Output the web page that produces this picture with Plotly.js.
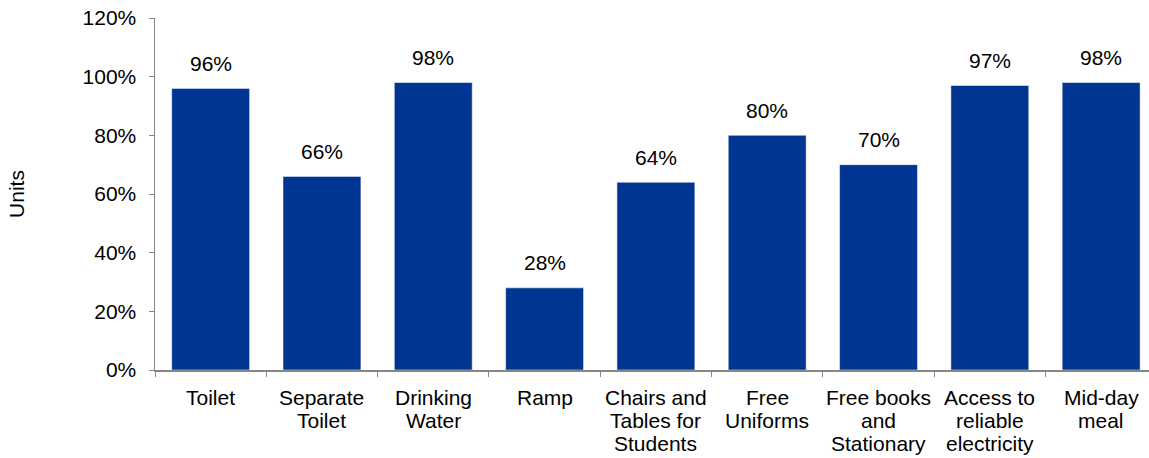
<!DOCTYPE html>
<html><head><meta charset="utf-8">
<script src="https://cdn.plot.ly/plotly-3.0.1.min.js"></script>
<style>html,body{margin:0;padding:0;background:#fff;overflow:hidden}</style>
</head><body>
<div id="chart" style="width:1149px;height:458px"></div>
<script>
const categories = ["Toilet", "Separate Toilet", "Drinking Water", "Ramp", "Chairs and Tables for Students", "Free Uniforms", "Free books and Stationary", "Access to reliable electricity", "Mid-day meal"];
const tickLines = [["Toilet"], ["Separate", "Toilet"], ["Drinking", "Water"], ["Ramp"], ["Chairs and", "Tables for", "Students"], ["Free", "Uniforms"], ["Free books", "and", "Stationary"], ["Access to", "reliable", "electricity"], ["Mid-day", "meal"]];
const values = [0.96, 0.66, 0.98, 0.28, 0.64, 0.80, 0.70, 0.97, 0.98];
const labels = ["96%", "66%", "98%", "28%", "64%", "80%", "70%", "97%", "98%"];

const font = "Liberation Sans, Arial, sans-serif";
const FS = 21;
const trace = {
  type: "bar", x: categories, y: values,
  marker: {color: "#003591", line: {color: "#ffffff", width: 0.5}},
  width: 0.7, hoverinfo: "skip"
};
const annotations = categories.map((c, i) => ({
  x: c, y: values[i], text: labels[i], showarrow: false,
  xanchor: "center", yanchor: "middle", yshift: 25,
  font: {family: font, size: FS, color: "#000"}
}));
tickLines.forEach((lines, i) => {
  lines.forEach((ln, k) => {
    annotations.push({
      x: categories[i], xref: "x", y: 0, yref: "paper", text: ln, showarrow: false,
      xanchor: "center", yanchor: "middle", yshift: -(27 + 23 * k),
      font: {family: font, size: FS, color: "#000"}
    });
  });
});
const layout = {
  width: 1149, height: 458,
  margin: {l: 155, r: 0, t: 18, b: 88},
  paper_bgcolor: "#fff", plot_bgcolor: "#fff",
  showlegend: false,
  font: {family: font, size: FS, color: "#000"},
  xaxis: {
    type: "category", range: [-0.5, 8.43],
    showline: true, linecolor: "#868686", linewidth: 1.5,
    ticks: "outside", tickson: "boundaries", ticklen: 5, tickcolor: "#868686",
    showgrid: false, zeroline: false, showticklabels: false
  },
  yaxis: {
    range: [0, 1.2], dtick: 0.2, tick0: 0, tickformat: ".0%",
    showline: true, linecolor: "#868686", linewidth: 1.5,
    ticks: "outside", ticklen: 5, tickcolor: "#868686",
    showgrid: false, zeroline: false,
    tickfont: {family: font, size: FS, color: "#000"},
    ticklabelstandoff: 8,
    title: {text: "Units", font: {family: font, size: FS, color: "#000"}, standoff: 52}
  },
  annotations: annotations
};
Plotly.newPlot("chart", [trace], layout, {displayModeBar: false, staticPlot: true});
</script>
</body></html>
